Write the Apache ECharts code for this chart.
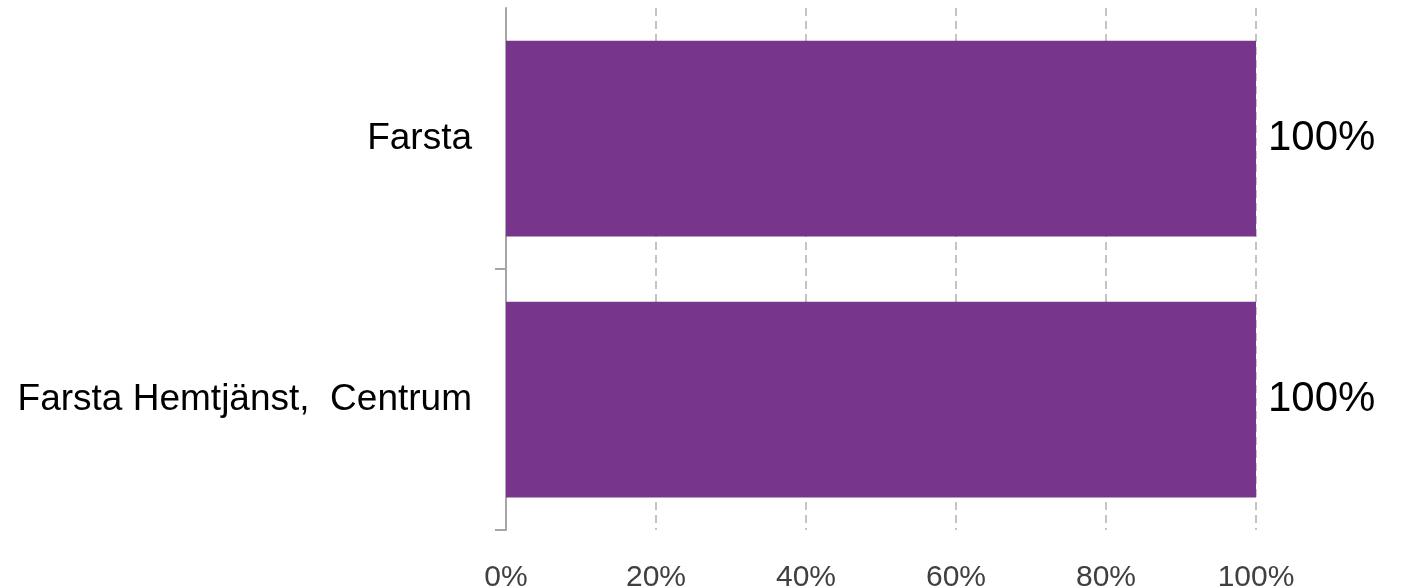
<!DOCTYPE html>
<html>
<head>
<meta charset="utf-8">
<title>Farsta</title>
<style>
  html, body { margin: 0; padding: 0; background: #fff; }
  #chart { width: 1407px; height: 587px; }
</style>
</head>
<body>
<div id="chart"></div>
<script src="https://cdn.jsdelivr.net/npm/echarts@6/dist/echarts.min.js"></script>
<script>
// data
var categories = ['Farsta', 'Farsta Hemtjänst,  Centrum'];
var values = [100, 100];
var xTicks = [0, 20, 40, 60, 80, 100];

var chart = echarts.init(document.getElementById('chart'));
var font = 'Liberation Sans, Arial, sans-serif';

var option = {
    animation: false,
    grid: { left: 506, right: 151, top: 8, bottom: 57, outerBoundsMode: 'none', containLabel: false },
    xAxis: {
        type: 'value',
        min: xTicks[0],
        max: xTicks[xTicks.length - 1],
        interval: 20,
        axisLine: { show: false },
        axisTick: { show: false },
        axisLabel: {
            formatter: '{value}%',
            fontFamily: font,
            fontSize: 30,
            color: '#404040',
            margin: 33
        },
        splitLine: {
            show: true,
            lineStyle: { color: '#c4c4c4', width: 2, type: [8, 5] }
        }
    },
    yAxis: [{
        type: 'category',
        inverse: true,
        data: categories,
        axisLine: { show: true, lineStyle: { color: '#a6a6a6', width: 2 } },
        axisTick: { show: false },
        axisLabel: {
            fontFamily: font,
            fontSize: 37,
            color: '#000',
            margin: 34
        }
    }, {
        // only used to draw the boundary ticks below the first band
        type: 'value',
        position: 'left',
        inverse: true,
        min: 0,
        max: categories.length,
        interval: 1,
        axisLine: { show: false },
        axisLabel: { show: false },
        splitLine: { show: false },
        axisTick: {
            show: true,
            length: 11,
            customValues: [1, 2],
            lineStyle: { color: '#a6a6a6', width: 2 }
        }
    }],
    series: [{
        type: 'bar',
        data: values,
        yAxisIndex: 0,
        barCategoryGap: '25%',
        itemStyle: { color: '#77368b' },
        label: {
            show: true,
            position: 'right',
            distance: 12,
            formatter: '{c}%',
            fontFamily: font,
            fontSize: 42,
            color: '#000'
        }
    }]
};
chart.setOption(option);
</script>
</body>
</html>
